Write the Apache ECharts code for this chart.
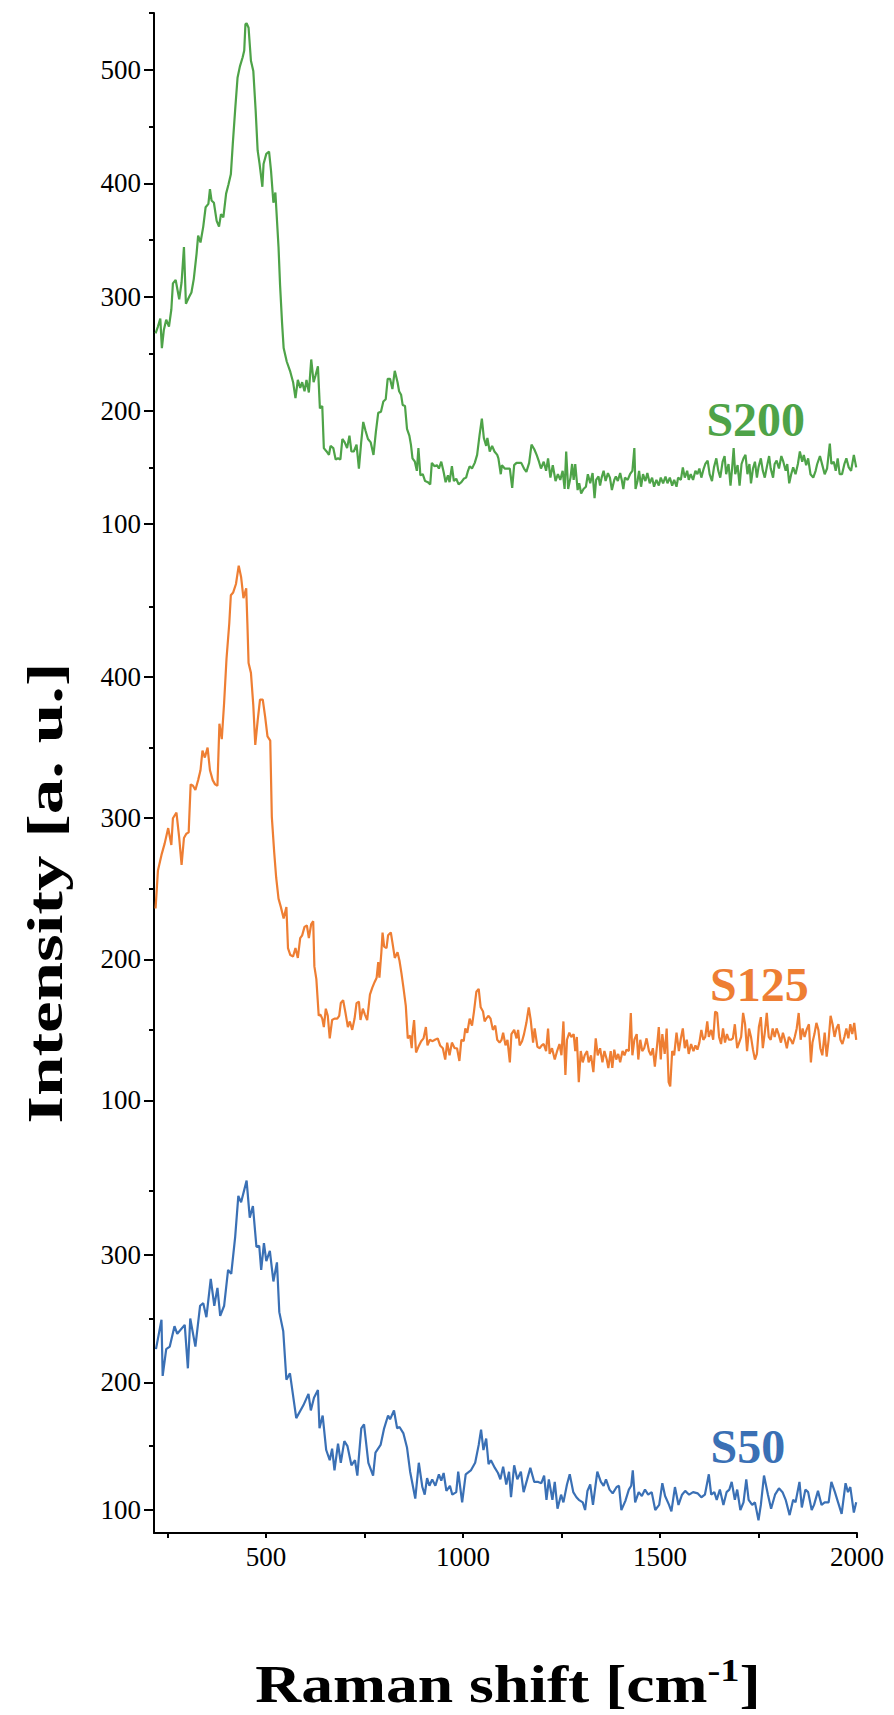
<!DOCTYPE html>
<html><head><meta charset="utf-8">
<script src="https://cdn.jsdelivr.net/npm/echarts@6/dist/echarts.min.js"></script>
<style>html,body{margin:0;padding:0;background:#fff}#c{width:894px;height:1715px}</style>
</head><body><div id="c"></div>
<script>
// Raman shift [cm-1], intensity [a.u.]
const s200 = [[220,268],[226,274],[232,281],[236,255],[241,271],[247,280],[254,274],[260,289],[264,312],[271,315],[280,298],[286,313],[292,344],[297,294],[305,300],[311,304],[317,316],[324,338],[328,354],[334,348],[341,362],[347,379],[354,382],[358,395],[362,385],[368,383],[375,367],[381,362],[386,373],[392,370],[399,391],[405,399],[411,408],[416,435],[422,465],[428,493],[434,503],[441,511],[445,517],[448,540],[451,541],[456,537],[462,508],[468,499],[474,464],[479,429],[484,417],[491,397],[494,417],[501,426],[508,428],[513,411],[519,383],[524,392],[528,368],[532,344],[536,310],[541,277],[545,255],[553,243],[562,234],[569,225],[575,211],[581,227],[587,220],[592,225],[598,217],[603,227],[609,216],[615,245],[621,225],[626,231],[632,239],[637,202],[643,204],[647,167],[654,164],[660,161],[664,169],[671,167],[677,157],[683,158],[689,157],[694,175],[700,172],[706,167],[712,178],[717,164],[723,164],[730,170],[736,149],[742,173],[747,190],[753,182],[759,175],[766,172],[773,161],[779,181],[785,198],[792,199],[798,208],[804,210],[809,228],[815,228],[821,219],[827,235],[834,225],[838,217],[843,214],[847,205],[853,204],[858,184],[864,178],[868,170],[872,158],[878,155],[883,147],[887,167],[892,143],[898,144],[904,138],[911,137],[917,135],[921,154],[928,151],[934,152],[939,149],[945,155],[951,146],[956,137],[962,143],[966,137],[972,151],[977,138],[983,140],[989,135],[996,137],[1002,140],[1008,141],[1012,146],[1017,151],[1023,149],[1030,154],[1036,161],[1042,178],[1048,193],[1053,176],[1059,169],[1062,176],[1068,164],[1074,169],[1080,164],[1087,161],[1090,158],[1096,144],[1099,152],[1106,149],[1113,149],[1119,149],[1125,132],[1130,152],[1136,154],[1142,154],[1148,154],[1155,149],[1161,146],[1168,154],[1174,170],[1181,166],[1187,161],[1193,155],[1198,149],[1205,155],[1211,147],[1216,158],[1222,141],[1228,152],[1235,138],[1241,144],[1247,139],[1253,147],[1258,131],[1262,164],[1267,131],[1273,141],[1277,153],[1281,139],[1285,153],[1291,130],[1295,136],[1300,127],[1306,131],[1312,133],[1317,144],[1323,136],[1329,145],[1334,123],[1338,139],[1344,142],[1348,134],[1352,141],[1357,147],[1362,138],[1368,145],[1373,141],[1378,130],[1384,139],[1388,142],[1393,138],[1399,145],[1403,139],[1407,131],[1411,141],[1418,139],[1424,144],[1430,147],[1435,167],[1438,131],[1443,138],[1447,147],[1452,133],[1457,144],[1463,138],[1468,145],[1474,136],[1480,141],[1485,133],[1491,139],[1497,134],[1502,141],[1508,136],[1514,142],[1519,136],[1525,141],[1531,134],[1536,139],[1542,133],[1546,141],[1553,139],[1558,150],[1563,141],[1569,147],[1573,139],[1578,144],[1584,139],[1590,147],[1595,144],[1600,149],[1605,141],[1611,149],[1615,153],[1621,156],[1626,144],[1632,138],[1637,150],[1643,158],[1648,147],[1653,141],[1659,155],[1664,160],[1668,144],[1674,153],[1679,134],[1683,149],[1687,167],[1691,144],[1697,152],[1702,134],[1707,153],[1712,158],[1717,161],[1722,144],[1727,153],[1731,136],[1736,149],[1741,155],[1746,141],[1750,150],[1756,158],[1761,147],[1766,141],[1771,150],[1777,160],[1781,149],[1787,141],[1791,153],[1796,156],[1802,149],[1808,160],[1813,155],[1819,147],[1823,153],[1828,136],[1833,144],[1838,150],[1844,144],[1850,153],[1855,164],[1861,155],[1865,161],[1871,152],[1876,158],[1882,144],[1889,141],[1895,147],[1899,153],[1906,160],[1912,152],[1918,144],[1924,149],[1931,171],[1935,153],[1941,155],[1946,147],[1951,158],[1956,144],[1962,144],[1968,153],[1973,158],[1979,150],[1985,147],[1992,161],[1998,150]];

const s125 = [[220,236],[226,263],[235,274],[243,282],[252,293],[260,281],[264,300],[273,304],[280,286],[286,267],[292,286],[298,289],[304,290],[309,324],[315,323],[321,320],[328,327],[334,334],[339,348],[345,343],[352,350],[358,334],[365,327],[371,324],[377,323],[382,367],[388,356],[394,382],[400,413],[407,438],[411,458],[417,460],[424,466],[431,479],[437,471],[443,456],[450,463],[453,438],[456,410],[462,403],[468,380],[473,352],[479,369],[485,384],[492,384],[498,372],[504,358],[511,355],[515,301],[521,276],[526,258],[532,243],[538,237],[545,229],[552,237],[556,208],[562,203],[569,202],[575,208],[581,201],[587,215],[592,217],[598,223],[604,224],[609,215],[615,225],[620,227],[623,195],[628,186],[634,160],[638,161],[643,158],[647,152],[652,165],[657,160],[662,144],[668,157],[674,158],[681,158],[686,160],[690,169],[696,171],[702,162],[708,152],[713,156],[719,150],[725,158],[730,169],[736,170],[740,157],[746,165],[751,161],[757,157],[764,175],[770,180],[776,184],[781,187],[785,198],[788,187],[793,205],[796,219],[800,209],[806,208],[810,217],[817,219],[821,212],[827,201],[834,205],[839,199],[844,190],[849,180],[855,167],[860,144],[866,146],[870,137],[872,147],[876,157],[881,134],[887,138],[894,142],[900,144],[906,152],[910,139],[916,143],[923,142],[929,143],[936,144],[942,139],[949,137],[955,129],[960,141],[966,132],[972,141],[979,137],[985,137],[991,128],[996,143],[1002,142],[1006,151],[1011,148],[1017,158],[1023,153],[1028,163],[1034,177],[1040,179],[1045,166],[1051,163],[1055,156],[1059,158],[1065,160],[1070,158],[1076,150],[1082,153],[1087,143],[1093,141],[1098,143],[1102,148],[1108,139],[1113,143],[1119,127],[1123,147],[1130,150],[1136,144],[1140,150],[1144,139],[1150,142],[1155,147],[1161,155],[1167,166],[1172,157],[1178,141],[1182,151],[1189,138],[1195,137],[1200,139],[1205,140],[1211,135],[1216,151],[1220,133],[1226,137],[1233,129],[1239,135],[1245,140],[1250,132],[1255,156],[1260,118],[1264,143],[1270,148],[1275,145],[1281,147],[1285,135],[1289,145],[1294,113],[1299,135],[1304,127],[1309,132],[1315,135],[1319,127],[1325,132],[1331,120],[1337,144],[1342,132],[1348,137],[1354,127],[1359,135],[1365,129],[1369,123],[1375,135],[1379,123],[1384,136],[1389,129],[1394,133],[1399,127],[1405,135],[1410,132],[1415,136],[1421,135],[1426,162],[1430,132],[1435,143],[1441,147],[1445,129],[1450,143],[1455,135],[1460,137],[1466,144],[1472,135],[1477,132],[1482,137],[1487,124],[1493,140],[1497,152],[1502,129],[1506,147],[1512,133],[1517,151],[1522,113],[1526,110],[1531,135],[1536,132],[1542,148],[1548,135],[1553,144],[1558,151],[1563,137],[1568,143],[1573,133],[1579,140],[1585,135],[1590,139],[1595,136],[1600,141],[1605,150],[1610,143],[1615,145],[1620,156],[1624,145],[1630,150],[1635,143],[1640,163],[1645,162],[1650,145],[1655,140],[1660,151],[1665,141],[1670,147],[1675,143],[1680,143],[1685,144],[1690,154],[1696,137],[1701,141],[1706,145],[1711,162],[1716,154],[1721,135],[1726,151],[1731,145],[1736,136],[1741,129],[1746,133],[1751,152],[1756,159],[1761,137],[1766,148],[1771,162],[1776,145],[1781,143],[1786,151],[1791,145],[1796,151],[1801,147],[1807,141],[1812,148],[1817,143],[1822,137],[1827,145],[1832,143],[1837,140],[1842,145],[1847,151],[1852,162],[1857,143],[1862,151],[1867,145],[1872,150],[1878,154],[1883,127],[1887,141],[1892,147],[1897,155],[1902,150],[1907,137],[1912,132],[1918,148],[1923,131],[1928,143],[1933,160],[1938,154],[1943,145],[1948,151],[1953,154],[1958,143],[1963,140],[1968,145],[1973,151],[1978,144],[1983,154],[1988,147],[1993,155],[1998,143]];

const s50 = [[221,226],[235,249],[238,205],[247,226],[256,228],[268,244],[275,238],[294,245],[302,211],[308,250],[321,228],[333,260],[341,262],[349,251],[360,281],[369,260],[377,274],[384,252],[394,260],[404,288],[412,285],[422,314],[430,346],[437,341],[451,358],[459,329],[467,338],[476,306],[483,307],[488,288],[495,309],[501,295],[510,303],[519,279],[528,294],[534,255],[544,240],[552,202],[561,207],[577,172],[595,182],[608,191],[614,178],[622,188],[632,194],[636,164],[644,174],[653,147],[662,139],[668,148],[674,131],[683,152],[690,137],[699,154],[707,150],[717,135],[726,139],[732,127],[742,164],[749,167],[760,137],[772,127],[778,145],[791,151],[800,164],[810,174],[815,171],[825,178],[833,164],[839,165],[849,160],[858,149],[866,130],[879,109],[888,137],[897,118],[903,112],[909,125],[915,119],[922,124],[930,119],[939,128],[945,123],[951,129],[958,115],[967,119],[973,112],[983,114],[988,130],[998,106],[1007,128],[1020,131],[1031,137],[1040,151],[1046,163],[1052,147],[1059,156],[1065,136],[1071,139],[1081,133],[1089,129],[1095,124],[1102,134],[1110,120],[1117,130],[1122,110],[1130,135],[1138,124],[1147,130],[1154,114],[1163,124],[1171,133],[1181,122],[1191,122],[1199,121],[1206,127],[1212,108],[1218,124],[1227,108],[1233,122],[1240,101],[1249,112],[1255,106],[1264,120],[1271,128],[1280,114],[1288,110],[1294,108],[1304,106],[1310,100],[1316,115],[1323,120],[1330,104],[1341,130],[1350,122],[1357,119],[1363,124],[1372,116],[1380,113],[1390,118],[1396,119],[1402,100],[1412,107],[1421,116],[1427,119],[1431,131],[1437,106],[1446,114],[1454,111],[1462,116],[1470,112],[1479,114],[1488,100],[1498,104],[1506,121],[1513,111],[1523,104],[1529,99],[1538,118],[1547,104],[1556,112],[1564,115],[1574,112],[1584,114],[1596,113],[1605,110],[1614,112],[1624,128],[1630,112],[1638,114],[1644,108],[1652,116],[1661,104],[1669,114],[1676,116],[1682,122],[1690,108],[1696,116],[1704,100],[1712,106],[1719,124],[1725,108],[1734,104],[1741,106],[1750,92],[1756,104],[1764,127],[1774,112],[1782,101],[1792,112],[1802,117],[1811,114],[1819,108],[1829,96],[1838,108],[1844,106],[1854,122],[1860,102],[1869,116],[1876,114],[1885,100],[1891,104],[1901,115],[1910,104],[1918,106],[1928,106],[1935,122],[1944,114],[1952,106],[1961,97],[1971,121],[1977,114],[1983,118],[1992,98],[1998,106]];

const seriesNames = ['S200', 'S125', 'S50'];
const labelAnchors = [[1743, 192], [1752, 182], [1723, 150]];
const xMajorTicks = [500, 1000, 1500, 2000];
const xAllTicks = [250, 500, 750, 1000, 1250, 1500, 1750, 2000];
const yMajorTicks = [[100, 200, 300, 400, 500], [100, 200, 300, 400], [100, 200, 300]];
const yMinorTicks = [[150, 250, 350, 450, 550], [150, 250, 350, 450], [150, 250, 350]];
const yRanges = [[50, 550], [50, 500], [82, 400]];
const xTitle = ['Raman shift [cm', '-1', ']'];
const yTitle = 'Intensity [a. u.]';

const colors = ['#4ea348', '#ee7e33', '#3a70b5'];
const FONT = '"Liberation Serif", "Times New Roman", serif';
const X_MIN = 216, X_MAX = 2000;
const grids = [
  { left: 154, width: 703, top: 13, height: 568 },
  { left: 154, width: 703, top: 536, height: 635 },
  { left: 154, width: 703, top: 1127, height: 406 }
];
const axisLineStyle = { color: '#000', width: 2 };

const xAxes = grids.map((g, i) => ({
  gridIndex: i, type: 'value', min: X_MIN, max: X_MAX,
  show: i === 2,
  axisLine: { show: true, onZero: false, lineStyle: axisLineStyle },
  axisTick: { show: true, length: 5, customValues: xAllTicks, lineStyle: axisLineStyle },
  axisLabel: { show: true, customValues: xMajorTicks, formatter: v => String(v),
    fontFamily: FONT, fontSize: 27, color: '#000', margin: 10 },
  splitLine: { show: false }
}));

const yAxes = [];
grids.forEach((g, i) => {
  yAxes.push({
    gridIndex: i, type: 'value', position: 'left', min: yRanges[i][0], max: yRanges[i][1],
    axisLine: { show: true, onZero: false, lineStyle: axisLineStyle },
    axisTick: { show: true, length: 10, customValues: yMajorTicks[i], lineStyle: axisLineStyle },
    axisLabel: { show: true, customValues: yMajorTicks[i], formatter: v => String(v),
      fontFamily: FONT, fontSize: 27, color: '#000', margin: 13 },
    splitLine: { show: false }
  });
  yAxes.push({
    gridIndex: i, type: 'value', position: 'left', offset: 0, min: yRanges[i][0], max: yRanges[i][1],
    axisLine: { show: false },
    axisTick: { show: true, length: 5, customValues: yMinorTicks[i], lineStyle: axisLineStyle },
    axisLabel: { show: false },
    splitLine: { show: false }
  });
});

const dataSets = [s200, s125, s50];
const series = [];
dataSets.forEach((d, i) => {
  series.push({
    name: seriesNames[i], type: 'line', xAxisIndex: i, yAxisIndex: i * 2,
    data: d, showSymbol: false, symbol: 'none', smooth: false,
    lineStyle: { color: colors[i], width: 2.2 }, silent: true
  });
  series.push({
    type: 'scatter', xAxisIndex: i, yAxisIndex: i * 2,
    data: [labelAnchors[i]], symbolSize: 0, itemStyle: { color: colors[i], opacity: 1 }, silent: true,
    label: { show: true, position: 'inside', formatter: seriesNames[i], opacity: 1,
      fontFamily: FONT, fontWeight: 'bold', fontSize: 48, color: colors[i] }
  });
});

const chart = echarts.init(document.getElementById('c'), null, { renderer: 'svg', width: 894, height: 1715 });
chart.setOption({
  animation: false,
  backgroundColor: '#fff',
  grid: grids.map(g => Object.assign({ containLabel: false, outerBoundsMode: 'none' }, g)),
  xAxis: xAxes,
  yAxis: yAxes,
  series: series,
  graphic: [{
    type: 'text', x: 45, y: 893, rotation: Math.PI / 2, scaleX: 1.42, scaleY: 1,
    style: { text: yTitle, fontFamily: FONT, fontWeight: 'bold', fontSize: 50, fill: '#000',
      align: 'center', verticalAlign: 'middle', textAlign: 'center', textVerticalAlign: 'middle' }
  }, {
    type: 'text', x: 508, y: 1684, scaleX: 1.2, scaleY: 1,
    style: {
      text: '{a|' + xTitle[0] + '}{s|' + xTitle[1] + '}{a|' + xTitle[2] + '}',
      align: 'center', verticalAlign: 'middle', textAlign: 'center', textVerticalAlign: 'middle',
      rich: {
        a: { fontFamily: FONT, fontWeight: 'bold', fontSize: 53, fill: '#000', color: '#000', lineHeight: 58 },
        s: { fontFamily: FONT, fontWeight: 'bold', fontSize: 32, fill: '#000', color: '#000', verticalAlign: 'top', lineHeight: 58 }
      }
    }
  }]
});
</script></body></html>
